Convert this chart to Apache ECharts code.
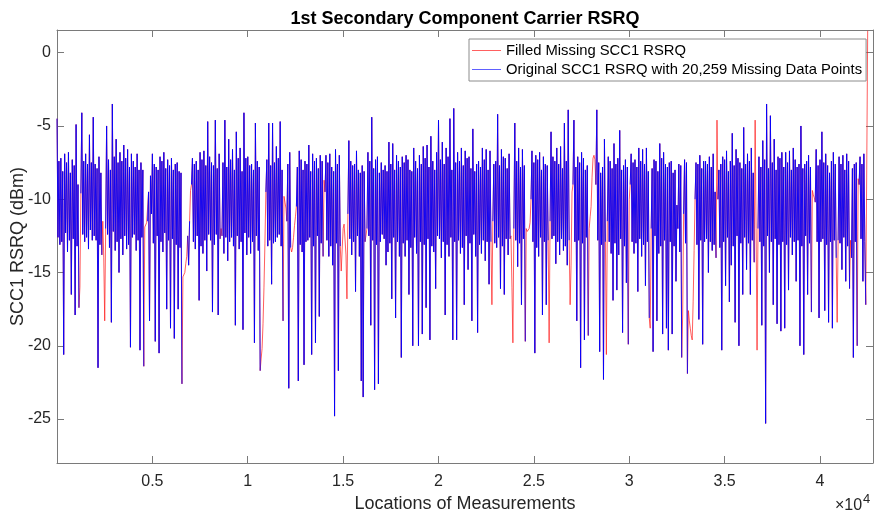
<!DOCTYPE html>
<html>
<head>
<meta charset="utf-8">
<title>1st Secondary Component Carrier RSRQ</title>
<script src="https://cdn.jsdelivr.net/npm/echarts@6/dist/echarts.min.js"></script>
<style>
  html, body { margin: 0; padding: 0; background: #ffffff; }
  #chart { width: 881px; height: 519px; }
</style>
</head>
<body>
<div id="chart"></div>
<script>
// SCC1 RSRQ (dBm) along the drive route, in blocks of 100 measurement locations.
// leadRowNN:  reading at the start of each block (location 1 + 100*i)
// trailRowNN: reading half-way through the block (location 51 + 100*i)
// Each row covers 20 blocks = 2,000 locations.
const sampleStart = 1;
const sampleStep = 100;
const trailOffset = 50;

const leadRow00 = [-4.5, -7.4, -7.2, -8.1, -6.9, -7.5, -6.8, -8.2, -7.3, -7.7, -4.9, -9.0, -16.0, -4.1, -7.4, -6.9, -7.6, -5.6, -7.5, -4.4];
const leadRow01 = [-7.6, -7.9, -7.1, -8.2, -11.5, -18.3, -5.0, -7.3, -8.0, -3.5, -7.1, -5.9, -7.5, -6.8, -7.4, -6.3, -7.2, -6.6, -7.8, -6.9];
const leadRow02 = [-7.4, -7.8, -6.9, -8.0, -7.5, -8.0, -11.9, -11.6, -9.5, -8.4, -6.9, -7.6, -7.8, -8.0, -7.1, -7.4, -6.8, -7.9, -7.3, -7.7];
const leadRow03 = [-7.2, -8.0, -7.6, -7.5, -8.1, -8.2, -15.3, -15.0, -13.9, -14.5, -9.4, -7.2, -7.6, -7.4, -8.0, -6.8, -7.3, -6.7, -7.7, -4.7];
const leadRow04 = [-7.1, -7.5, -7.7, -4.6, -7.9, -6.9, -12.0, -7.5, -4.6, -7.8, -5.9, -7.3, -6.6, -8.0, -5.4, -7.2, -6.5, -8.1, -4.1, -7.2];
const leadRow05 = [-7.1, -7.7, -7.6, -8.0, -4.8, -7.4, -7.8, -20.9, -18.5, -13.0, -7.3, -4.8, -7.7, -4.8, -7.5, -6.4, -7.2, -4.7, -8.0, -9.8];
const leadRow06 = [-10.6, -7.6, -6.8, -13.6, -12.6, -11.2, -7.8, -6.7, -7.3, -8.0, -7.4, -7.6, -6.3, -8.1, -6.9, -7.4, -7.2, -7.9, -7.0, -7.4];
const leadRow07 = [-8.7, -7.0, -7.5, -6.9, -7.8, -8.1, -6.6, -7.6, -7.0, -14.9, -12.0, -11.8, -16.8, -6.0, -7.4, -7.7, -7.6, -6.7, -8.0, -8.2];
const leadRow08 = [-7.7, -8.1, -12.8, -6.8, -7.4, -4.4, -7.9, -7.3, -7.1, -8.2, -7.5, -8.0, -7.7, -8.1, -6.1, -7.6, -6.2, -8.0, -7.0, -7.4];
const leadRow09 = [-7.8, -7.1, -7.5, -7.0, -7.3, -8.0, -8.1, -6.5, -7.4, -7.9, -7.0, -7.6, -6.4, -7.2, -6.3, -7.8, -5.7, -7.4, -8.0, -6.8];
const leadRow10 = [-4.6, -7.3, -6.1, -7.6, -6.5, -7.1, -4.5, -8.0, -3.8, -7.5, -6.8, -7.4, -6.5, -7.7, -6.7, -7.2, -7.1, -7.9, -5.2, -8.1];
const leadRow11 = [-7.6, -7.4, -7.8, -6.5, -7.3, -6.6, -8.0, -6.7, -17.2, -7.6, -7.4, -4.2, -7.7, -6.6, -7.1, -7.2, -7.9, -6.9, -12.5, -19.8];
const leadRow12 = [-4.8, -7.4, -6.5, -7.8, -6.6, -7.7, -12.0, -12.3, -11.6, -6.7, -7.5, -7.0, -7.3, -6.8, -8.0, -7.1, -7.6, -7.7, -19.8, -5.4];
const leadRow13 = [-7.1, -7.4, -6.5, -7.6, -6.4, -7.9, -4.8, -7.4, -3.9, -17.2, -9.5, -4.6, -7.8, -7.1, -7.5, -6.8, -7.2, -8.0, -7.7, -12.0];
const leadRow14 = [-10.5, -7.2, -7.3, -3.9, -7.5, -8.2, -7.8, -5.9, -20.6, -7.1, -7.4, -7.9, -6.2, -7.6, -7.2, -5.3, -8.0, -7.7, -7.3, -7.8];
const leadRow15 = [-10.0, -6.9, -7.5, -7.3, -7.8, -6.5, -7.4, -6.6, -7.6, -6.5, -8.1, -18.8, -7.9, -7.3, -7.4, -8.1, -6.2, -7.2, -6.8, -7.6];
const leadRow16 = [-7.8, -7.5, -7.4, -8.2, -8.0, -10.4, -7.6, -7.7, -17.9, -7.3, -7.5, -17.6, -18.8, -19.6, -13.5, -7.5, -7.6, -7.0, -7.9, -7.4];
const leadRow17 = [-7.4, -7.6, -7.1, -7.8, -6.9, -9.5, -4.6, -8.0, -7.6, -7.1, -7.3, -6.7, -8.1, -7.4, -5.5, -7.7, -6.6, -7.2, -7.5, -7.9];
const leadRow18 = [-5.1, -7.6, -6.9, -7.4, -6.5, -8.2, -4.6, -20.3, -7.1, -7.8, -6.0, -7.3, -3.5, -7.9, -4.3, -7.5, -5.9, -8.0, -7.1, -7.2];
const leadRow19 = [-6.8, -7.8, -6.8, -7.5, -6.7, -8.0, -6.5, -7.3, -7.8, -7.6, -5.0, -7.9, -7.6, -7.4, -7.0, -7.8, -9.4, -9.9, -6.6, -7.7];
const leadRow20 = [-7.3, -5.4, -7.5, -6.9, -7.7, -8.2, -7.4, -6.8, -7.6, -18.4, -7.1, -7.6, -7.0, -8.0, -6.9, -7.4, -12.8, -7.9, -7.6, -7.5];
const leadRow21 = [-8.6, -7.1, -7.6, -6.9, -17.2, 1.5];

const trailRow00 = [-12.6, -13.1, -12.9, -20.6, -12.3, -13.6, -12.8, -16.5, -12.7, -17.9, -13.2, -17.4, -9.6, -12.4, -12.9, -12.6, -13.4, -12.1, -12.8, -12.5];
const trailRow01 = [-12.8, -21.5, -13.1, -13.8, -14.0, -12.0, -12.4, -13.3, -18.4, -12.2, -13.5, -12.9, -15.0, -12.7, -13.8, -12.5, -13.4, -13.1, -20.1, -12.6];
const trailRow02 = [-12.4, -13.5, -12.8, -20.3, -12.6, -21.4, -11.8, -11.5, -18.3, -11.0, -13.0, -19.7, -12.5, -20.5, -12.9, -13.6, -12.3, -17.5, -12.8, -18.8];
const trailRow03 = [-12.7, -19.5, -13.1, -17.5, -13.3, -22.6, -15.2, -14.4, -12.5, -11.5, -9.0, -12.9, -13.4, -12.5, -16.9, -13.2, -13.7, -12.8, -14.9, -12.4];
const trailRow04 = [-12.8, -17.7, -13.1, -12.4, -17.9, -12.7, -12.5, -13.7, -12.6, -14.2, -12.9, -12.6, -13.2, -18.6, -12.5, -13.4, -12.9, -18.9, -12.3, -13.8];
const trailRow05 = [-12.6, -13.7, -12.9, -19.8, -12.5, -13.5, -21.7, -20.2, -16.0, -9.5, -13.2, -12.8, -15.8, -13.0, -12.9, -12.6, -12.4, -13.2, -18.3, -10.2];
const trailRow06 = [-11.5, -22.9, -13.3, -13.3, -11.8, -10.5, -22.4, -13.1, -13.6, -21.3, -12.9, -12.8, -12.6, -20.6, -13.2, -19.8, -12.5, -18.0, -13.0, -13.9];
const trailRow07 = [-9.5, -12.8, -13.9, -13.2, -14.5, -24.8, -13.0, -21.7, -13.2, -13.4, -11.7, -13.8, -11.0, -12.7, -13.8, -12.9, -16.3, -12.5, -13.9, -22.4];
const trailRow08 = [-23.5, -12.9, -12.0, -12.5, -18.6, -12.8, -23.0, -13.1, -22.6, -12.9, -12.4, -12.7, -14.5, -13.6, -13.0, -16.8, -12.6, -18.1, -12.9, -13.9];
const trailRow09 = [-20.8, -13.0, -13.9, -12.8, -16.5, -13.3, -20.0, -12.6, -13.7, -20.0, -12.9, -19.2, -13.1, -17.4, -12.7, -19.6, -13.2, -13.6, -16.1, -12.5];
const trailRow10 = [-12.7, -14.0, -12.9, -17.9, -13.1, -13.9, -12.6, -19.6, -12.9, -19.6, -12.8, -13.7, -13.3, -17.2, -12.5, -14.8, -13.0, -18.3, -12.4, -13.9];
const trailRow11 = [-19.1, -13.1, -13.7, -12.8, -14.2, -12.9, -15.8, -12.9, -11.5, -13.0, -13.3, -12.6, -16.1, -13.2, -16.5, -12.7, -13.8, -12.7, -16.0, -12.0];
const trailRow12 = [-12.8, -14.6, -13.0, -17.2, -12.7, -19.7, -12.2, -12.0, -10.0, -12.9, -20.5, -13.3, -13.9, -12.6, -17.9, -12.9, -17.2, -12.8, -11.5, -12.7];
const trailRow13 = [-12.5, -14.4, -12.9, -13.8, -12.7, -13.5, -13.2, -14.5, -12.8, -14.5, -9.0, -12.9, -18.3, -12.8, -21.5, -13.0, -19.6, -12.6, -19.3, -11.2];
const trailRow14 = [-8.5, -7.0, -9.0, -12.8, -20.4, -13.1, -22.3, -12.9, -11.5, -12.9, -13.7, -16.9, -13.0, -16.2, -13.8, -12.7, -19.1, -13.2, -15.7, -19.9];
const trailRow15 = [-9.0, -12.9, -13.7, -13.0, -16.3, -12.7, -13.9, -13.1, -15.9, -12.9, -18.1, -12.0, -20.4, -12.5, -18.3, -13.7, -13.2, -19.2, -12.8, -18.8];
const trailRow16 = [-20.3, -12.9, -19.2, -13.2, -15.6, -12.0, -13.6, -20.8, -11.0, -13.0, -21.9, -18.3, -19.3, -17.0, -10.0, -13.1, -18.2, -12.8, -19.9, -12.9];
const trailRow17 = [-12.7, -15.0, -12.9, -13.5, -13.1, -14.0, -10.0, -13.3, -20.3, -12.9, -15.9, -12.6, -17.0, -14.5, -13.2, -18.4, -12.5, -20.0, -13.0, -16.5];
const trailRow18 = [-12.6, -14.8, -13.0, -16.5, -12.8, -14.3, -12.0, -12.0, -12.9, -18.6, -13.2, -25.3, -12.5, -15.0, -12.9, -17.2, -12.7, -18.5, -13.1, -19.0];
const trailRow19 = [-12.9, -18.8, -13.1, -16.2, -12.6, -13.8, -12.9, -15.6, -12.8, -20.0, -13.2, -20.6, -12.5, -16.5, -13.0, -17.7, -9.7, -10.2, -12.9, -18.1];
const trailRow20 = [-12.9, -12.7, -17.6, -13.1, -18.4, -12.9, -18.8, -12.8, -14.0, -12.8, -13.0, -14.8, -12.6, -15.6, -13.2, -16.1, -14.0, -20.8, -12.9, -20.0];
const trailRow21 = [-9.0, -12.7, -15.6, -12.9, -8.0];

// Readings absent from the original log (filled in afterwards), by position in the arrays above.
const missingLead = [
  12, 24, 25, 46, 47, 66, 67, 68, 70, 86, 107, 108, 109, 119, 120, 123, 124, 125,
  140, 149, 150, 151, 152, 162, 228, 238, 239, 246, 247, 248, 258, 269, 270, 279,
  280, 281, 282, 288, 300, 311, 328, 331, 332, 333, 334, 346, 366, 367, 396, 397,
  409, 416, 420, 425
];
const missingTrail = [
  24, 46, 66, 67, 107, 108, 119, 123, 124, 149, 150, 151, 238, 246, 247, 269, 279,
  280, 281, 331, 332, 333, 366, 396, 424
];

const xTicks = [5000, 10000, 15000, 20000, 25000, 30000, 35000, 40000];
const yTicks = [-25, -20, -15, -10, -5, 0];

const seriesNames = ['Filled Missing SCC1 RSRQ', 'Original SCC1 RSRQ with 20,259 Missing Data Points'];

const lead = [].concat(
  leadRow00, leadRow01, leadRow02, leadRow03, leadRow04, leadRow05, leadRow06, leadRow07,
  leadRow08, leadRow09, leadRow10, leadRow11, leadRow12, leadRow13, leadRow14, leadRow15,
  leadRow16, leadRow17, leadRow18, leadRow19, leadRow20, leadRow21
);
const trail = [].concat(
  trailRow00, trailRow01, trailRow02, trailRow03, trailRow04, trailRow05, trailRow06, trailRow07,
  trailRow08, trailRow09, trailRow10, trailRow11, trailRow12, trailRow13, trailRow14, trailRow15,
  trailRow16, trailRow17, trailRow18, trailRow19, trailRow20, trailRow21
);
const leadGap = new Set(missingLead);
const trailGap = new Set(missingTrail);

// Merge both reading sets into location order.
const filledData = [];
const originalData = [];
lead.forEach((v, i) => {
  const x = sampleStart + i * sampleStep;
  filledData.push([x, v]);
  originalData.push([x, leadGap.has(i) ? '-' : v]);
  if (i < trail.length) {
    const xt = x + trailOffset;
    filledData.push([xt, trail[i]]);
    originalData.push([xt, trailGap.has(i) ? '-' : trail[i]]);
  }
});

const FONT = '"Liberation Sans", Arial, Helvetica, sans-serif';
const AXIS_COLOR = '#7a7a7a';
const TEXT_COLOR = '#262626';

const chart = echarts.init(document.getElementById('chart'), null, { renderer: 'canvas' });

const boxAxisX = (pos) => ({
  type: 'value',
  position: pos,
  min: 0,
  max: 42780,
  axisLine: { show: true, onZero: false, lineStyle: { color: AXIS_COLOR, width: 1 } },
  axisTick: { show: true, inside: true, length: 7, customValues: xTicks, lineStyle: { color: AXIS_COLOR } },
  axisLabel: {
    show: pos === 'bottom',
    customValues: xTicks,
    margin: 11,
    fontSize: 16,
    fontFamily: FONT,
    color: TEXT_COLOR,
    formatter: (v) => String(v / 10000)
  },
  splitLine: { show: false }
});

const boxAxisY = (pos) => ({
  type: 'value',
  position: pos,
  min: -28,
  max: 1.55,
  axisLine: { show: true, onZero: false, lineStyle: { color: AXIS_COLOR, width: 1 } },
  axisTick: { show: true, inside: true, length: 7, customValues: yTicks, lineStyle: { color: AXIS_COLOR } },
  axisLabel: {
    show: pos === 'left',
    customValues: yTicks,
    margin: 6,
    fontSize: 16,
    fontFamily: FONT,
    color: TEXT_COLOR
  },
  splitLine: { show: false }
});

const xBottom = Object.assign(boxAxisX('bottom'), {
  name: 'Locations of Measurements',
  nameLocation: 'middle',
  nameGap: 32,
  nameMoveOverlap: false,
  nameTextStyle: { fontSize: 18, fontFamily: FONT, color: TEXT_COLOR }
});
const yLeft = Object.assign(boxAxisY('left'), {
  name: 'SCC1 RSRQ (dBm)',
  nameLocation: 'middle',
  nameGap: 30,
  nameMoveOverlap: false,
  nameTextStyle: { fontSize: 18, fontFamily: FONT, color: TEXT_COLOR }
});

chart.setOption({
  animation: false,
  backgroundColor: '#ffffff',
  textStyle: { fontFamily: FONT },
  title: {
    text: '1st Secondary Component Carrier RSRQ',
    left: 460,
    textAlign: 'center',
    top: 5,
    textStyle: { fontSize: 18, fontWeight: 'bold', fontFamily: FONT, color: '#000000' }
  },
  grid: { left: 57, top: 30, width: 816, height: 433, containLabel: false, outerBoundsMode: 'none' },
  legend: {
    orient: 'vertical',
    left: 469,
    top: 39,
    padding: [4, 4, 4, 3],
    itemGap: 4,
    itemWidth: 29,
    itemHeight: 1,
    icon: 'rect',
    backgroundColor: '#ffffff',
    borderColor: '#8c8c8c',
    borderWidth: 1,
    borderRadius: 0,
    textStyle: { fontSize: 14.8, fontFamily: FONT, color: '#000000' },
    data: seriesNames
  },
  xAxis: [xBottom, boxAxisX('top')],
  yAxis: [yLeft, boxAxisY('right')],
  graphic: [
    { type: 'text', left: 835, top: 498, style: { text: '×10', font: '16px ' + FONT, fill: TEXT_COLOR } },
    { type: 'text', left: 863, top: 493, style: { text: '4', font: '13px ' + FONT, fill: TEXT_COLOR } }
  ],
  series: [
    {
      name: seriesNames[0],
      type: 'line',
      xAxisIndex: 0,
      yAxisIndex: 0,
      data: filledData,
      showSymbol: false,
      symbol: 'none',
      connectNulls: false,
      lineStyle: { color: '#ff1a1a', width: 0.7 },
      itemStyle: { color: '#ff6060' },
      z: 2
    },
    {
      name: seriesNames[1],
      type: 'line',
      xAxisIndex: 0,
      yAxisIndex: 0,
      data: originalData,
      showSymbol: false,
      symbol: 'none',
      connectNulls: false,
      lineStyle: { color: '#0000ff', width: 0.9 },
      itemStyle: { color: '#6060ff' },
      z: 3
    }
  ]
});
</script>
</body>
</html>
